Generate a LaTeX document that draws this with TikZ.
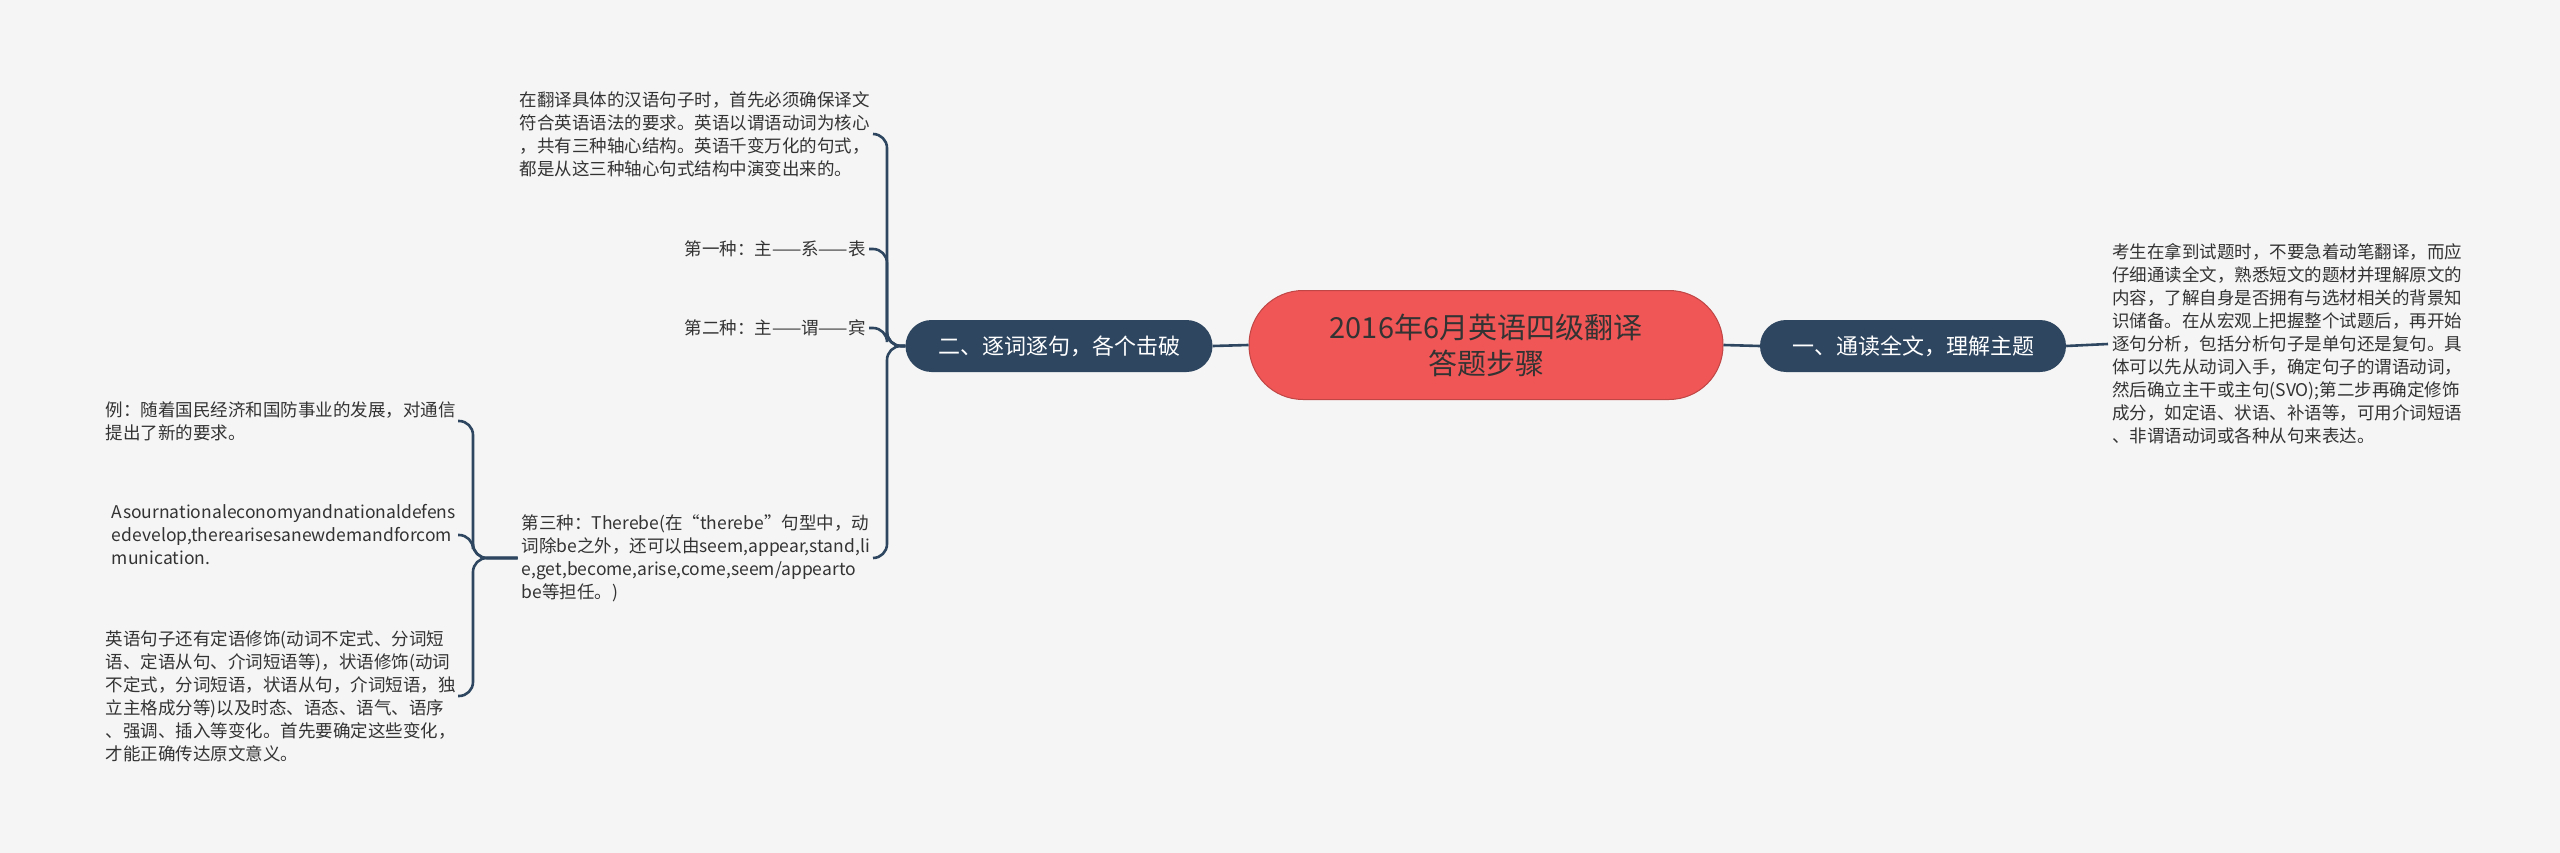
\documentclass[tikz,border=0pt]{standalone}
\usepackage{fontspec}
\setmainfont{Noto Sans CJK SC}
\usetikzlibrary{calc}
\definecolor{bg}{HTML}{F5F5F5}
\definecolor{navy}{HTML}{2E4660}
\definecolor{red}{HTML}{F05656}
\definecolor{txt}{HTML}{333333}
\begin{document}
\begin{tikzpicture}[x=1pt,y=-1pt,
  conn/.style={draw=navy,line width=2.6pt,rounded corners=14pt},
  leaf/.style={inner sep=0pt,text=txt,font=\fontsize{17.5}{23}\selectfont,align=left},
  branch/.style={fill=navy,text=white,rounded corners=26pt,minimum height=52pt,inner xsep=20pt,font=\fontsize{22}{26}\selectfont},
  root/.style={fill=red,draw=red!80!black,line width=1pt,text=txt,rounded corners=54pt,minimum height=109pt,minimum width=474pt,align=center,font=\fontsize{29}{36}\selectfont}]
\fill[bg] (0,0) rectangle (2560,853);
\useasboundingbox (0,0) rectangle (2560,853);
\node[root] (C) at (1486,345) {2016年6月英语四级翻译\\答题步骤};
\node[branch,minimum width=306pt] (R) at (1913,346) {一、通读全文，理解主题};
\node[branch,minimum width=307pt] (L) at (1059,346) {二、逐词逐句，各个击破};
\node[leaf,anchor=west] (RT) at (2112,344) {考生在拿到试题时，不要急着动笔翻译，而应\\仔细通读全文，熟悉短文的题材并理解原文的\\内容，了解自身是否拥有与选材相关的背景知\\识储备。在从宏观上把握整个试题后，再开始\\逐句分析，包括分析句子是单句还是复句。具\\体可以先从动词入手，确定句子的谓语动词，\\然后确立主干或主句(SVO);第二步再确定修饰\\成分，如定语、状语、补语等，可用介词短语\\、非谓语动词或各种从句来表达。};
\node[leaf,anchor=east] (A1) at (870,134) {在翻译具体的汉语句子时，首先必须确保译文\\符合英语语法的要求。英语以谓语动词为核心\\，共有三种轴心结构。英语千变万化的句式，\\都是从这三种轴心句式结构中演变出来的。};
\node[leaf,anchor=east] (A2) at (866,249) {第一种：主——系——表};
\node[leaf,anchor=east] (A3) at (866,328) {第二种：主——谓——宾};
\node[leaf,anchor=east] (A4) at (870,558) {第三种：Therebe(在“therebe”句型中，动\\词除be之外，还可以由seem,appear,stand,li\\e,get,become,arise,come,seem/appearto\\be等担任。)};
\node[leaf,anchor=east] (B1) at (456,421) {例：随着国民经济和国防事业的发展，对通信\\提出了新的要求。};
\node[leaf,anchor=east] (B2) at (456,535) {Asournationaleconomyandnationaldefens\\edevelop,therearisesanewdemandforcom\\munication.};
\node[leaf,anchor=east] (B3) at (456,696) {英语句子还有定语修饰(动词不定式、分词短\\语、定语从句、介词短语等)，状语修饰(动词\\不定式，分词短语，状语从句，介词短语，独\\立主格成分等)以及时态、语态、语气、语序\\、强调、插入等变化。首先要确定这些变化，\\才能正确传达原文意义。};
\draw[conn] (C.east) -- (R.west);
\draw[conn] (L.east) -- (C.west);
\draw[conn] (R.east) -- ($(RT.west)+(-4,0)$);
\foreach \n/\d in {A1/17,A2/21,A3/21,A4/17}
  \draw[conn] (L.west) -| ($(\n.east)+(\d,0)$) -- ($(\n.east)+(3,0)$);
\foreach \n in {B1,B2,B3}
  \draw[conn] ($(A4.west)+(-4,0)$) -| ($(\n.east)+(17,0)$) -- ($(\n.east)+(2,0)$);
\end{tikzpicture}
\end{document}
